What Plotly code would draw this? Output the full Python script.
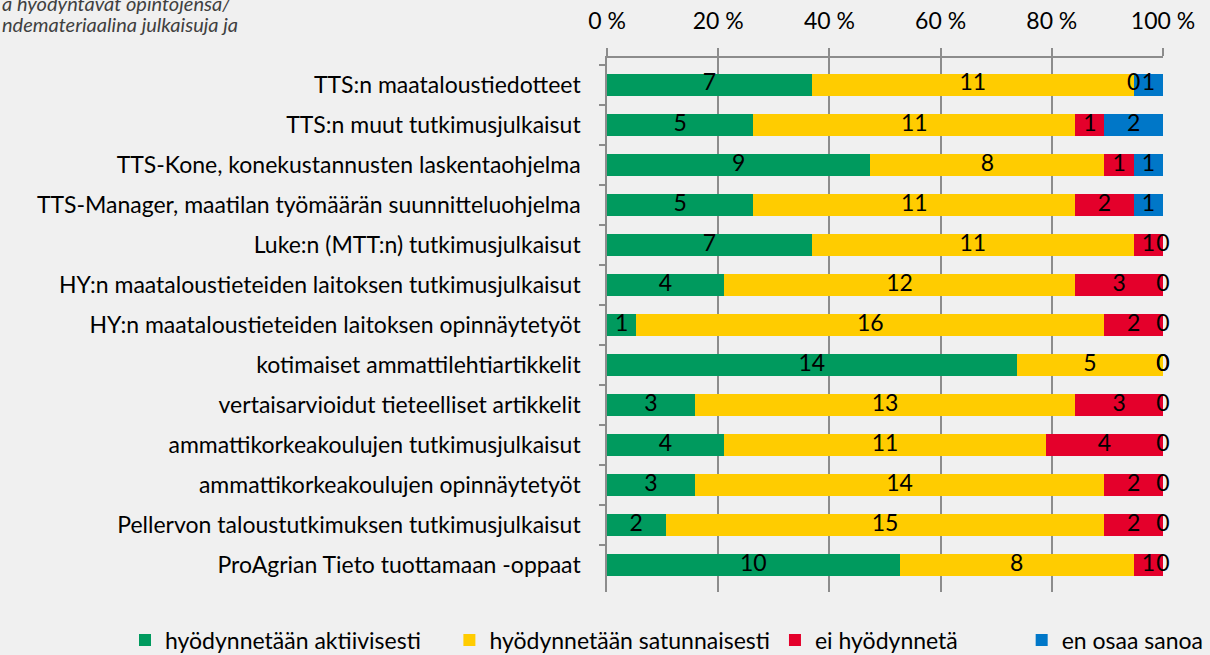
import numpy as np
import plotly.graph_objects as go

categories = [
    "TTS:n maataloustiedotteet",
    "TTS:n muut tutkimusjulkaisut",
    "TTS-Kone, konekustannusten laskentaohjelma",
    "TTS-Manager, maatilan työmäärän suunnitteluohjelma",
    "Luke:n (MTT:n) tutkimusjulkaisut",
    "HY:n maataloustieteiden laitoksen tutkimusjulkaisut",
    "HY:n maataloustieteiden laitoksen opinnäytetyöt",
    "kotimaiset ammattilehtiartikkelit",
    "vertaisarvioidut tieteelliset artikkelit",
    "ammattikorkeakoulujen tutkimusjulkaisut",
    "ammattikorkeakoulujen opinnäytetyöt",
    "Pellervon taloustutkimuksen tutkimusjulkaisut",
    "ProAgrian Tieto tuottamaan -oppaat",
]

aktiivisesti = [7, 5, 9, 5, 7, 4, 1, 14, 3, 4, 3, 2, 10]
satunnaisesti = [11, 11, 8, 11, 11, 12, 16, 5, 13, 11, 14, 15, 8]
ei_hyodynneta = [0, 1, 1, 2, 1, 3, 2, 0, 3, 4, 2, 2, 1]
en_osaa = [1, 2, 1, 1, 0, 0, 0, 0, 0, 0, 0, 0, 0]

series_names = ["hyödynnetään aktiivisesti", "hyödynnetään satunnaisesti",
                "ei hyödynnetä", "en osaa sanoa"]
colors = ["#009A5E", "#FFCC00", "#E4002B", "#0077C8"]

tick_vals = [0, 20, 40, 60, 80, 100]
tick_text = ["0 %", "20 %", "40 %", "60 %", "80 %", "100 %"]

font = "Lato"
fs = 23
values = np.array([aktiivisesti, satunnaisesti, ei_hyodynneta, en_osaa], dtype=float)
totals = values.sum(axis=0)
pct = values / totals * 100
cum = np.cumsum(pct, axis=0)
mid = cum - pct / 2

# extra room after each legend entry so the spacing looks like the original
pads = ["\u00a0" * 4, "", "\u00a0" * 10, ""]

fig = go.Figure()

for i in range(4):
    fig.add_trace(go.Bar(
        y=categories, x=pct[i], orientation="h",
        name=series_names[i] + pads[i],
        marker=dict(color=colors[i], line=dict(width=0)),
        hoverinfo="skip"))

# value labels (also the zero ones, like the original)
for i in range(4):
    fig.add_trace(go.Scatter(
        y=categories, x=mid[i], mode="text",
        text=[str(int(v)) for v in values[i]],
        textfont=dict(family=font, size=fs, color="#000000"),
        textposition="middle center", showlegend=False,
        cliponaxis=False, hoverinfo="skip"))

fig.update_layout(
    barmode="stack",
    bargap=0.46,
    width=1210, height=655,
    paper_bgcolor="#F0F0F0", plot_bgcolor="#F0F0F0",
    font=dict(family=font, size=fs, color="#000000"),
    margin=dict(l=607, r=47, t=58, b=63, autoexpand=False),
    legend=dict(orientation="h", x=(125 - 607) / 556, xanchor="left",
                y=-48 / 534, yanchor="middle",
                font=dict(size=fs), traceorder="normal", itemwidth=30),
    xaxis=dict(side="top", range=[0, 100], tickvals=tick_vals, ticktext=tick_text,
               showgrid=True, gridcolor="#8C8C8C", gridwidth=1.5,
               showline=True, linecolor="#8C8C8C", linewidth=1.5,
               ticks="outside", ticklen=8, tickcolor="#8C8C8C", tickwidth=1.5,
               ticklabelstandoff=10, zeroline=False, fixedrange=True),
    yaxis=dict(autorange="reversed", showline=True, linecolor="#8C8C8C", linewidth=1.5,
               ticks="outside", ticklen=6, tickcolor="#8C8C8C", tickwidth=1.5,
               tickson="boundaries", showgrid=False, ticklabelstandoff=20),
    annotations=[
        dict(text="<i>a hyödyntävät opintojensa/</i>", xref="paper", yref="paper",
             x=-607 / 556, xanchor="left", y=1 + 55 / 534, yanchor="middle",
             showarrow=False, font=dict(size=20, color="#404040")),
        dict(text="<i>ndemateriaalina julkaisuja ja</i>", xref="paper", yref="paper",
             x=-607 / 556, xanchor="left", y=1 + 34 / 534, yanchor="middle",
             showarrow=False, font=dict(size=20, color="#404040")),
    ],
)

fig.write_html("out.html", config={"displayModeBar": False},
               post_script="document.body.style.margin='0';")
